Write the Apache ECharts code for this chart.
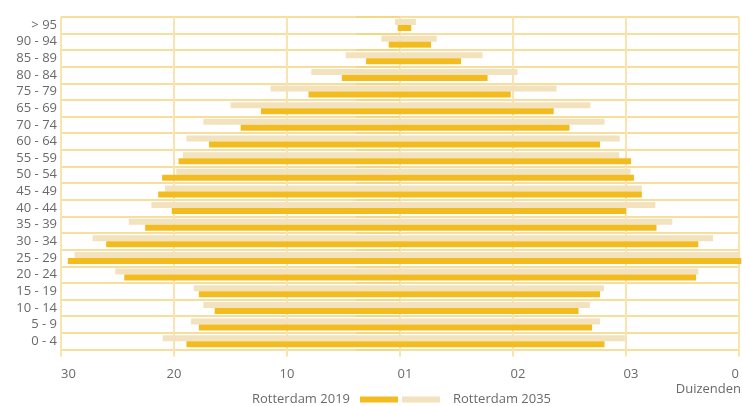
<!DOCTYPE html>
<html>
<head>
<meta charset="utf-8">
<script src="https://cdn.jsdelivr.net/npm/echarts@6/dist/echarts.min.js"></script>
<style>
  html, body { margin: 0; padding: 0; background: #fff; }
  #chart { width: 742px; height: 406px; }
</style>
</head>
<body>
<div id="chart"></div>
<script>
// Age groups, top row first
const categories = ['> 95', '90 - 94', '85 - 89', '80 - 84', '75 - 79', '65 - 69', '70 - 74', '60 - 64',
  '55 - 59', '50 - 54', '45 - 49', '40 - 44', '35 - 39', '30 - 34', '25 - 29', '20 - 24',
  '15 - 19', '10 - 14', '5 - 9', '0 - 4'];

// Population in thousands: left side and right side of the pyramid
const left2019  = [0.2, 1.0, 3.0, 5.15, 8.1, 12.3, 14.1, 16.9, 19.6, 21.05, 21.4, 20.2, 22.55, 26.0, 29.4, 24.4, 17.8, 16.4, 17.8, 18.9];
const right2019 = [1.0, 2.75, 5.4, 7.75, 9.8, 13.6, 15.0, 17.7, 20.45, 20.7, 21.4, 20.0, 22.7, 26.4, 30.2, 26.2, 17.7, 15.8, 17.0, 18.1];
const left2035  = [0.45, 1.65, 4.8, 7.85, 11.45, 15.0, 17.4, 18.9, 19.2, 19.8, 20.8, 22.0, 24.0, 27.2, 28.8, 25.2, 18.25, 17.4, 18.5, 21.0];
const right2035 = [1.4, 3.25, 7.3, 10.4, 13.85, 16.85, 18.1, 19.45, 19.4, 20.4, 21.4, 22.6, 24.1, 27.7, 30.0, 26.4, 18.05, 16.8, 17.7, 19.9];

// Tick labels from -30 to 30, step 10
const tickLabels = ['30', '20', '10', '01', '02', '03', '0'];

const name2019 = 'Rotterdam 2019';
const name2035 = 'Rotterdam 2035';
const color2019 = '#F2BC1F';
const color2035 = '#F2E2BE';
const font = "'Open Sans', 'Noto Sans', sans-serif";
const textColor = '#6a6a6a';

const chart = echarts.init(document.getElementById('chart'), null, { renderer: 'canvas' });

function barSeries(name, stack, values, color, negate) {
  return {
    name: name,
    type: 'bar',
    stack: stack,
    barWidth: 6,
    barGap: '0%',
    clip: false,
    silent: true,
    itemStyle: { color: color },
    data: values.map(v => negate ? -v : v)
  };
}

chart.setOption({
  animation: false,
  textStyle: { fontFamily: font },
  grid: { left: 61, right: 2, top: 16.7, bottom: 56.5, containLabel: false },
  xAxis: {
    type: 'value',
    min: -30,
    max: 30,
    interval: 10,
    axisLine: { show: false },
    axisTick: { show: true, length: 7, lineStyle: { color: '#F7E4AE', width: 2 } },
    axisLabel: {
      margin: 18,
      color: textColor,
      fontSize: 13,
      fontFamily: font,
      alignMinLabel: 'left',
      alignMaxLabel: 'right',
      formatter: v => {
        const label = tickLabels[Math.round((v + 30) / 10)];
        // labels right of the centre sit a little to the right of their grid line
        return (v >= 0 && v < 30) ? '{r|' + label + '}' : label;
      },
      rich: {
        r: { color: textColor, fontSize: 13, fontFamily: font, padding: [0, 0, 0, 10] }
      }
    },
    splitLine: { show: true, lineStyle: { color: '#F7E4AE', width: 2 } }
  },
  yAxis: {
    type: 'category',
    inverse: true,
    data: categories,
    axisLine: { show: false },
    axisTick: { show: true, length: 44, interval: 0, lineStyle: { color: '#F5D57A', width: 1.5 } },
    axisLabel: { margin: 4, color: textColor, fontSize: 13, fontFamily: font, interval: 0 },
    splitLine: { show: true, interval: 0, lineStyle: { color: '#F5D57A', width: 1.5 } }
  },
  legend: [
    {
      data: [name2019],
      right: 344,
      top: 393,
      padding: 0,
      align: 'right',
      itemWidth: 38,
      itemHeight: 6,
      icon: 'rect',
      selectedMode: false,
      textStyle: { color: textColor, fontSize: 13, fontFamily: font, padding: [0, 5, 0, 0] }
    },
    {
      data: [name2035],
      left: 402,
      top: 393,
      padding: 0,
      align: 'left',
      itemWidth: 38,
      itemHeight: 6,
      icon: 'rect',
      selectedMode: false,
      textStyle: { color: textColor, fontSize: 13, fontFamily: font, padding: [0, 0, 0, 8] }
    }
  ],
  graphic: [
    {
      type: 'text',
      right: 1,
      top: 383,
      style: { text: 'Duizenden', fill: textColor, font: '13px ' + font }
    }
  ],
  series: [
    barSeries(name2035, 'y2035', left2035, color2035, true),
    barSeries(name2035, 'y2035', right2035, color2035, false),
    barSeries(name2019, 'y2019', left2019, color2019, true),
    barSeries(name2019, 'y2019', right2019, color2019, false)
  ]
});
</script>
</body>
</html>
